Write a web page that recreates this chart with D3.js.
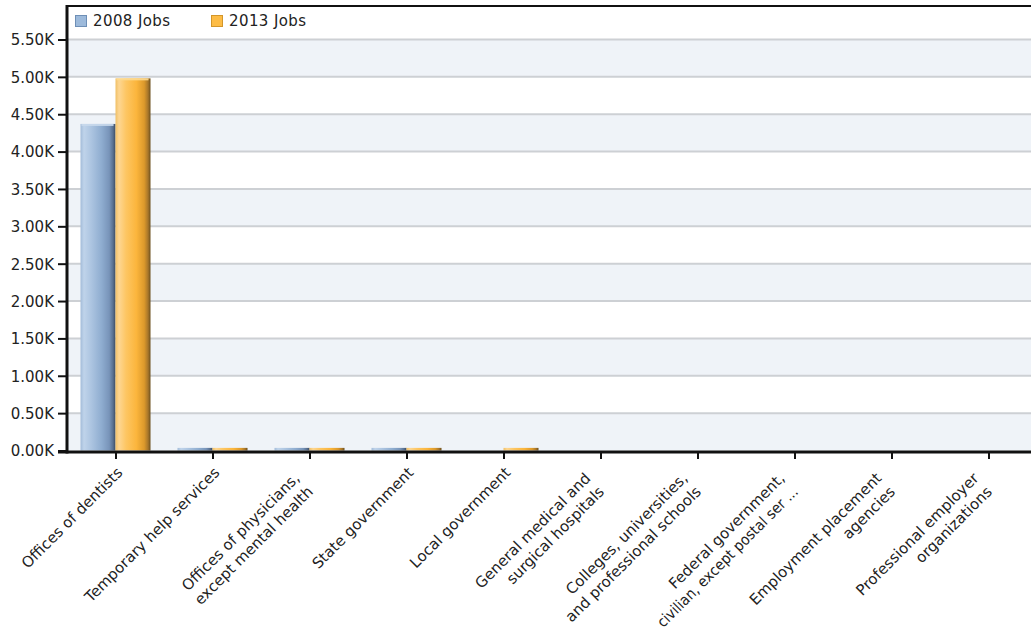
<!DOCTYPE html>
<html>
<head>
<meta charset="utf-8">
<script src="https://cdn.jsdelivr.net/npm/d3@7"></script>
<style>
  html, body { margin: 0; padding: 0; background: #ffffff; }
  svg { display: block; font-family: "DejaVu Sans", Verdana, sans-serif; }
</style>
</head>
<body>
<svg id="chart" width="1031" height="631"></svg>
<script>
// ---- data ----
const categories = [
  "Offices of dentists",
  "Temporary help services",
  "Offices of physicians,\nexcept mental health",
  "State government",
  "Local government",
  "General medical and\nsurgical hospitals",
  "Colleges, universities,\nand professional schools",
  "Federal government,\ncivilian, except postal ser ...",
  "Employment placement\nagencies",
  "Professional employer\norganizations"
];
const seriesNames = ["2008 Jobs", "2013 Jobs"];
const jobs2008 = [4370, 35, 35, 35, 0, 0, 0, 0, 0, 0];
const jobs2013 = [4980, 35, 35, 35, 35, 0, 0, 0, 0, 0];
const yTicks = [0, 500, 1000, 1500, 2000, 2500, 3000, 3500, 4000, 4500, 5000, 5500];

// ---- layout ----
const svg = d3.select("#chart");
const W = 1031;
const plotLeft = 67, plotRight = 1037, plotTop = 6, zeroY = 450.5, topTickY = 39.5;

const x0 = d3.scaleBand().domain(d3.range(categories.length))
  .range([plotLeft, plotRight]).paddingInner(0.2784).paddingOuter(0.1392);
const x1 = d3.scaleBand().domain([0, 1]).range([0, x0.bandwidth()]);
const y = d3.scaleLinear().domain([0, 5500]).range([zeroY, topTickY]);

const defs = svg.append("defs");
function grad(id, stops) {
  const g = defs.append("linearGradient").attr("id", id)
    .attr("x1", "0%").attr("x2", "100%").attr("y1", "0%").attr("y2", "0%");
  stops.forEach(s => g.append("stop").attr("offset", s[0]).attr("stop-color", s[1]));
}
grad("gBlue", [["0%", "#a3bcd9"], ["10%", "#bfd3ea"], ["30%", "#adc5e1"], ["60%", "#8fadd0"], ["82%", "#7894b9"], ["93%", "#587090"], ["100%", "#3b4a60"]]);
grad("gOrange", [["0%", "#f0c066"], ["10%", "#fdd692"], ["30%", "#fdc663"], ["60%", "#fbb53c"], ["82%", "#dc992b"], ["93%", "#a7762a"], ["100%", "#6b4e1c"]]);
const fills = ["url(#gBlue)", "url(#gOrange)"];
const topColors = ["#c9d9ec", "#fdd98f"];

// plot background bands
const bandG = svg.append("g");
bandG.append("rect").attr("x", plotLeft).attr("y", plotTop)
  .attr("width", W - plotLeft).attr("height", zeroY - plotTop).attr("fill", "#ffffff");
yTicks.slice(0, -1).forEach((t, i) => {
  if (i % 2 === 0) {
    bandG.append("rect").attr("x", plotLeft).attr("y", y(yTicks[i + 1]))
      .attr("width", W - plotLeft).attr("height", y(t) - y(yTicks[i + 1]))
      .attr("fill", "#eff3f8");
  }
});
// gridlines
svg.append("g").selectAll("line").data(yTicks.slice(1)).join("line")
  .attr("x1", plotLeft).attr("x2", W)
  .attr("y1", d => y(d)).attr("y2", d => y(d))
  .attr("stroke", "#cdd0d4").attr("stroke-width", 2);

// bars
const series = [jobs2008, jobs2013];
const barG = svg.append("g");
categories.forEach((c, i) => {
  series.forEach((vals, s) => {
    const v = vals[i];
    if (v <= 0) return;
    const bx = x0(i) + x1(s), bw = x1.bandwidth();
    const by = y(v), bh = zeroY - y(v);
    barG.append("rect").attr("x", bx).attr("y", by).attr("width", bw).attr("height", bh)
      .attr("fill", fills[s]);
    if (bh > 4) {
      barG.append("rect").attr("x", bx + 1).attr("y", by).attr("width", bw - 3).attr("height", 2)
        .attr("fill", topColors[s]).attr("opacity", 0.9);
    }
  });
});

// frame top line
svg.append("line").attr("x1", plotLeft - 1).attr("x2", W).attr("y1", plotTop).attr("y2", plotTop)
  .attr("stroke", "#111").attr("stroke-width", 2);

// y axis
const yAxis = d3.axisLeft(y).tickValues(yTicks).tickSize(9).tickPadding(4)
  .tickFormat(d => d3.format(".2f")(d / 1000) + "K");
const yg = svg.append("g").attr("transform", `translate(${plotLeft},0)`).call(yAxis);
yg.select(".domain").remove();
yg.selectAll(".tick line").attr("stroke", "#111").attr("stroke-width", 2);
yg.selectAll(".tick text").attr("font-size", 15).attr("fill", "#222")
  .attr("font-family", "DejaVu Sans, sans-serif").attr("dy", "0.36em");
svg.append("line").attr("x1", plotLeft).attr("x2", plotLeft).attr("y1", plotTop - 1).attr("y2", zeroY + 3)
  .attr("stroke", "#111").attr("stroke-width", 3);

// x axis
const axisY = zeroY + 1.5;
const xCenter = d3.scalePoint().domain(d3.range(categories.length))
  .range([x0(0) + x0.bandwidth() / 2, x0(categories.length - 1) + x0.bandwidth() / 2]);
const xAxis = d3.axisBottom(xCenter).tickSize(7).tickFormat("");
const xg = svg.append("g").attr("transform", `translate(0,${axisY})`).call(xAxis);
xg.select(".domain").remove();
xg.selectAll(".tick line").attr("stroke", "#111").attr("stroke-width", 2);
svg.append("line").attr("x1", plotLeft - 9).attr("x2", W).attr("y1", axisY).attr("y2", axisY)
  .attr("stroke", "#111").attr("stroke-width", 3);

// x labels
const lh = 19, maxLen = 192;
const labG = svg.append("g");
categories.forEach((c, i) => {
  const lines = c.split("\n");
  const n = lines.length;
  const g = labG.append("g")
    .attr("transform", `translate(${xCenter(i) + 8},${zeroY + 23}) rotate(-45)`);
  lines.forEach((ln, k) => {
    const t = g.append("text")
      .attr("x", n > 1 ? -16 : 0)
      .attr("y", n > 1 ? 1.5 + (k - (n - 1) / 2) * lh : 0)
      .attr("text-anchor", "end")
      .attr("font-size", 15).attr("fill", "#222")
      .text(ln);
    const len = t.node().getComputedTextLength();
    if (len > maxLen) t.attr("textLength", maxLen).attr("lengthAdjust", "spacingAndGlyphs");
  });
});

// legend
const legColors = [["#9dbadb", "#6e8fb6"], ["#fdbc45", "#d3962a"]];
const legX = [75, 211];
seriesNames.forEach((name, s) => {
  const g = svg.append("g").attr("transform", `translate(${legX[s]},15)`);
  g.append("rect").attr("x", 0.5).attr("y", 0.5).attr("width", 11).attr("height", 11)
    .attr("fill", legColors[s][0]).attr("stroke", legColors[s][1]);
  g.append("text").attr("x", 18).attr("y", 11).attr("font-size", 15).attr("fill", "#222")
    .attr("letter-spacing", 0.4).text(name);
});
</script>
</body>
</html>
